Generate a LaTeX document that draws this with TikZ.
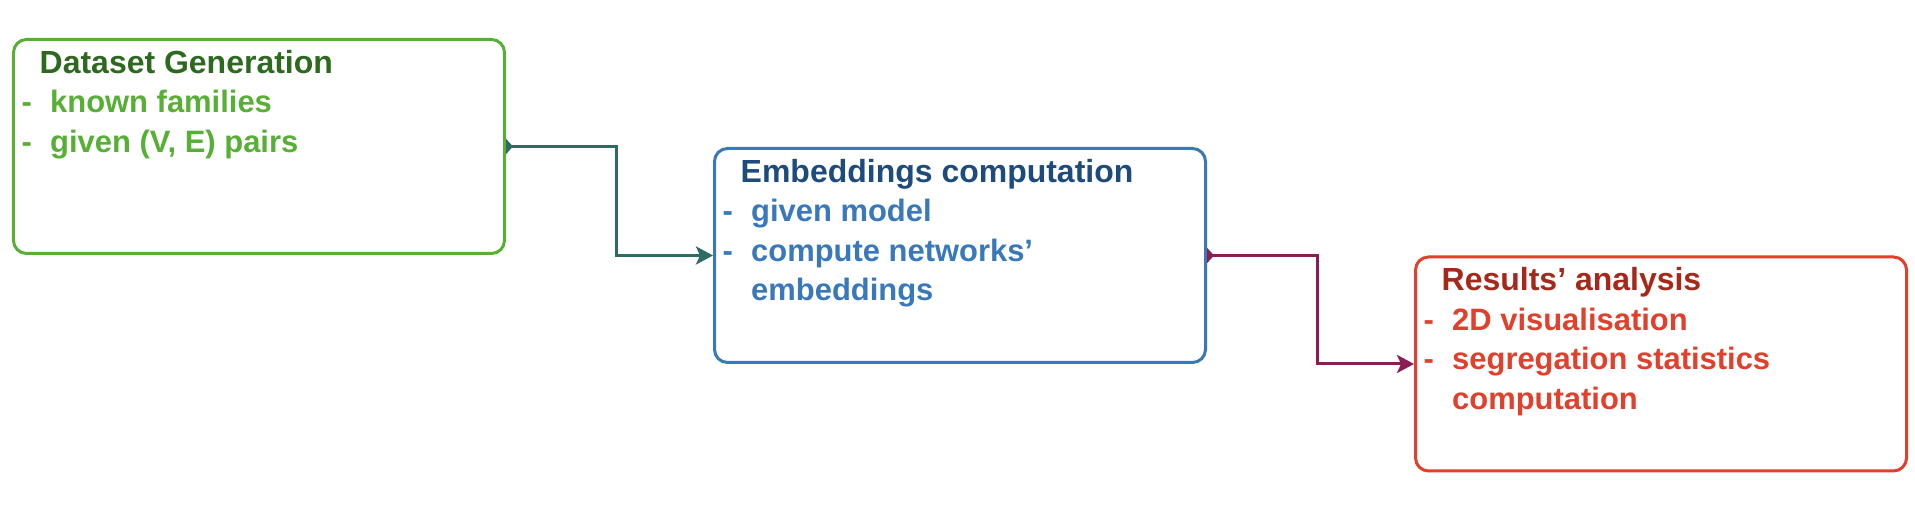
\documentclass[tikz,border=0pt]{standalone}
\usepackage{fontspec}
\setmainfont{Liberation Sans}
\usetikzlibrary{arrows.meta}

\definecolor{genline}{HTML}{57B035}
\definecolor{gentitle}{HTML}{2D6A1F}
\definecolor{embline}{HTML}{3878BB}
\definecolor{embtitle}{HTML}{1E4B7D}
\definecolor{resline}{HTML}{E0402C}
\definecolor{restitle}{HTML}{A6281A}
\definecolor{linkone}{HTML}{2E6B62}
\definecolor{linktwo}{HTML}{8A1E52}

\newcommand{\itemline}[1]{\makebox[0.285cm][l]{-}#1}
\newcommand{\itemcont}[1]{\hspace*{0.285cm}#1}
\newcommand{\stagetitle}[2]{\rule{0pt}{0.3cm}\hspace*{0.18cm}%
  {\fontsize{9.1pt}{11.24pt}\selectfont\textcolor{#1}{#2}}}

\begin{document}
\begin{tikzpicture}[
  stage/.style={draw, rounded corners=0.13cm, line width=0.03cm,
    minimum width=4.91cm, minimum height=2.14cm, inner sep=0pt},
  notes/.style={anchor=north west, inner sep=0pt, align=left,
    font=\fontsize{8.8pt}{11.24pt}\selectfont\bfseries},
  link/.style={line width=0.03cm,
    arrows={Triangle[reversed,length=0.07cm,width=0.15cm]-Stealth[length=0.17cm,width=0.18cm,inset=0.04cm]}}
]
  \useasboundingbox[fill=white] (0,0) rectangle (19.15,5.12);
  \node[stage, genline] (gen) at (2.59,3.655) {};
  \node[stage, embline] (emb) at (9.60,2.565) {};
  \node[stage, resline] (res) at (16.61,1.48) {};
  \node[notes, genline] (gentext) at ([shift={(0.09,-0.045)}]gen.north west)
    {\stagetitle{gentitle}{Dataset Generation}\\
     \itemline{known families}\\
     \itemline{given (V, E) pairs}};
  \node[notes, embline] (embtext) at ([shift={(0.09,-0.045)}]emb.north west)
    {\stagetitle{embtitle}{Embeddings computation}\\
     \itemline{given model}\\
     \itemline{compute networks'}\\
     \itemcont{embeddings}};
  \node[notes, resline] (restext) at ([shift={(0.09,-0.045)}]res.north west)
    {\stagetitle{restitle}{Results' analysis}\\
     \itemline{2D visualisation}\\
     \itemline{segregation statistics}\\
     \itemcont{computation}};
  % connectors
  \draw[link, linkone] (gen.east) -- ++(1.1,0) |- (emb.west);
  \draw[link, linktwo] (emb.east) -- ++(1.1,0) |- (res.west);
\end{tikzpicture}
\end{document}
